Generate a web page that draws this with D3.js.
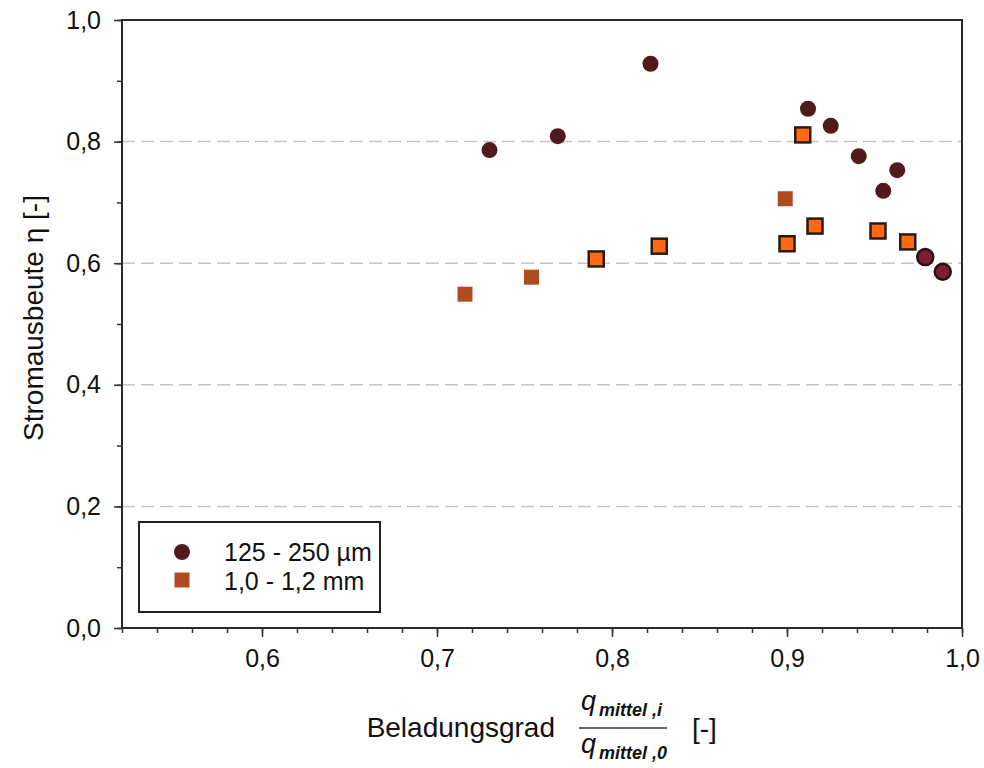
<!DOCTYPE html>
<html>
<head>
    <meta charset="utf-8">
    <title>Stromausbeute vs. Beladungsgrad</title>
    <script src="https://d3js.org/d3.v7.min.js"></script>
    <style>
        body { margin: 0; background: #fff; }
        text { font-family: "Liberation Sans", Arial, sans-serif; fill: #111; }
    </style>
</head>
<body>
    <div id="chart"></div>
    <script>

        // 125 - 250 µm (circles), plain and outlined measurement sets
        var fineX = [0.730, 0.769, 0.822, 0.912, 0.925, 0.941, 0.955, 0.963];
        var fineY = [0.786, 0.809, 0.928, 0.854, 0.826, 0.776, 0.719, 0.753];
        var fineX2 = [0.979, 0.989];
        var fineY2 = [0.610, 0.586];

        // 1,0 - 1,2 mm (squares), plain and outlined measurement sets
        var coarseX = [0.716, 0.754, 0.899];
        var coarseY = [0.549, 0.577, 0.706];
        var coarseX2 = [0.791, 0.827, 0.900, 0.909, 0.916, 0.952, 0.969];
        var coarseY2 = [0.607, 0.628, 0.632, 0.811, 0.661, 0.653, 0.635];

        var xTicks = [0.6, 0.7, 0.8, 0.9, 1.0];
        var yTicks = [0, 0.2, 0.4, 0.6, 0.8, 1.0];
        var gridValues = [0.2, 0.4, 0.6, 0.8];
        var legendLabels = ["125 - 250 µm", "1,0 - 1,2 mm"];

        var width = 984, height = 768;
        var plotLeft = 122, plotRight = 962, plotTop = 20, plotBottom = 628;

        var svg = d3.select("#chart")
            .append("svg")
            .attr("width", width)
            .attr("height", height);

        var de = d3.formatLocale({ decimal: ",", thousands: ".", grouping: [3], currency: ["", " €"] });
        var fmt = de.format(".1f");

        var xScale = d3.scaleLinear().domain([0.52, 1.0]).range([plotLeft, plotRight]);
        var yScale = d3.scaleLinear().domain([0, 1]).range([plotBottom, plotTop]);

        // grid
        svg.selectAll(".grid")
            .data(gridValues)
            .enter()
            .append("line")
            .attr("x1", plotLeft)
            .attr("x2", plotRight)
            .attr("y1", function(d) { return yScale(d); })
            .attr("y2", function(d) { return yScale(d); })
            .style("stroke", "#c4c4c4")
            .style("stroke-width", 1.5)
            .style("stroke-dasharray", "13,6");

        // minor ticks
        var xMinor = d3.range(0, 25).map(function(i) { return 0.52 + i * 0.02; });
        var yMinor = d3.range(0, 11).map(function(i) { return i * 0.1; });

        svg.append("g")
            .attr("transform", `translate(0, ${plotBottom})`)
            .call(d3.axisBottom(xScale).tickValues(xMinor).tickSize(5).tickFormat(""))
            .call(function(g) { g.select(".domain").remove(); });

        svg.append("g")
            .attr("transform", `translate(${plotLeft}, 0)`)
            .call(d3.axisLeft(yScale).tickValues(yMinor).tickSize(5).tickFormat(""))
            .call(function(g) { g.select(".domain").remove(); });

        // major ticks and labels
        var xAxis = svg.append("g")
            .attr("transform", `translate(0, ${plotBottom})`)
            .call(d3.axisBottom(xScale).tickValues(xTicks).tickSize(9).tickPadding(12).tickFormat(fmt));
        xAxis.select(".domain").remove();

        var yAxis = svg.append("g")
            .attr("transform", `translate(${plotLeft}, 0)`)
            .call(d3.axisLeft(yScale).tickValues(yTicks).tickSize(8).tickPadding(13).tickFormat(fmt));
        yAxis.select(".domain").remove();

        svg.selectAll(".tick line").style("stroke", "#333").style("stroke-width", 1.5);
        svg.selectAll(".tick text")
            .style("font-size", "25px")
            .style("font-family", "'Liberation Sans', Arial, sans-serif")
            .style("fill", "#111");

        // frame
        svg.append("rect")
            .attr("x", plotLeft)
            .attr("y", plotTop)
            .attr("width", plotRight - plotLeft)
            .attr("height", plotBottom - plotTop)
            .style("fill", "none")
            .style("stroke", "#2a2a2a")
            .style("stroke-width", 2);

        // squares
        var sq = 15;
        function squares(xs, ys, fill, stroke) {
            svg.append("g").selectAll("rect")
                .data(xs.map(function(d, i) { return [d, ys[i]]; }))
                .enter()
                .append("rect")
                .attr("x", function(d) { return xScale(d[0]) - sq / 2; })
                .attr("y", function(d) { return yScale(d[1]) - sq / 2; })
                .attr("width", sq)
                .attr("height", sq)
                .style("fill", fill)
                .style("stroke", stroke)
                .style("stroke-width", stroke === "none" ? 0 : 2.5);
        }
        squares(coarseX, coarseY, "#b04a20", "none");
        squares(coarseX2, coarseY2, "#ff6a12", "#2b1a12");

        // circles
        function circles(xs, ys, fill, stroke) {
            svg.append("g").selectAll("circle")
                .data(xs.map(function(d, i) { return [d, ys[i]]; }))
                .enter()
                .append("circle")
                .attr("cx", function(d) { return xScale(d[0]); })
                .attr("cy", function(d) { return yScale(d[1]); })
                .attr("r", 8)
                .style("fill", fill)
                .style("stroke", stroke)
                .style("stroke-width", stroke === "none" ? 0 : 2.5);
        }
        circles(fineX, fineY, "#4e1a1c", "none");
        circles(fineX2, fineY2, "#7c1e34", "#2a1014");

        // legend
        svg.append("rect")
            .attr("x", 139)
            .attr("y", 522)
            .attr("width", 241)
            .attr("height", 90)
            .style("fill", "#fff")
            .style("stroke", "#222")
            .style("stroke-width", 2);

        svg.append("circle")
            .attr("cx", 182).attr("cy", 552).attr("r", 8)
            .style("fill", "#4e1a1c");
        svg.append("rect")
            .attr("x", 174.5).attr("y", 572.5).attr("width", sq).attr("height", sq)
            .style("fill", "#b04a20");

        svg.selectAll(".legend-label")
            .data(legendLabels)
            .enter()
            .append("text")
            .attr("class", "legend-label")
            .attr("x", 224)
            .attr("y", function(d, i) { return 561 + i * 29; })
            .style("font-size", "25px")
            .text(function(d) { return d; });

        // y axis title
        svg.append("text")
            .attr("transform", "rotate(-90)")
            .attr("x", -318)
            .attr("y", 43)
            .style("text-anchor", "middle")
            .style("font-size", "28px")
            .text("Stromausbeute η [-]");

        // x axis title with fraction
        svg.append("text")
            .attr("x", 555)
            .attr("y", 737)
            .style("text-anchor", "end")
            .style("font-size", "28px")
            .text("Beladungsgrad");

        function qTerm(y, sub) {
            var t = svg.append("text")
                .attr("x", 581)
                .attr("y", y)
                .style("font-size", "27px");
            t.append("tspan").style("font-style", "italic").text("q");
            t.append("tspan")
                .attr("dx", 3)
                .attr("dy", 6)
                .style("font-size", "18px")
                .style("font-style", "italic")
                .style("font-weight", "bold")
                .text(sub);
        }
        qTerm(710, "mittel ,i");
        qTerm(753, "mittel ,0");

        svg.append("line")
            .attr("x1", 579).attr("x2", 667)
            .attr("y1", 728).attr("y2", 728)
            .style("stroke", "#333")
            .style("stroke-width", 1.5);

        svg.append("text")
            .attr("x", 692)
            .attr("y", 738)
            .style("font-size", "28px")
            .text("[-]");

    </script>
</body>
</html>
